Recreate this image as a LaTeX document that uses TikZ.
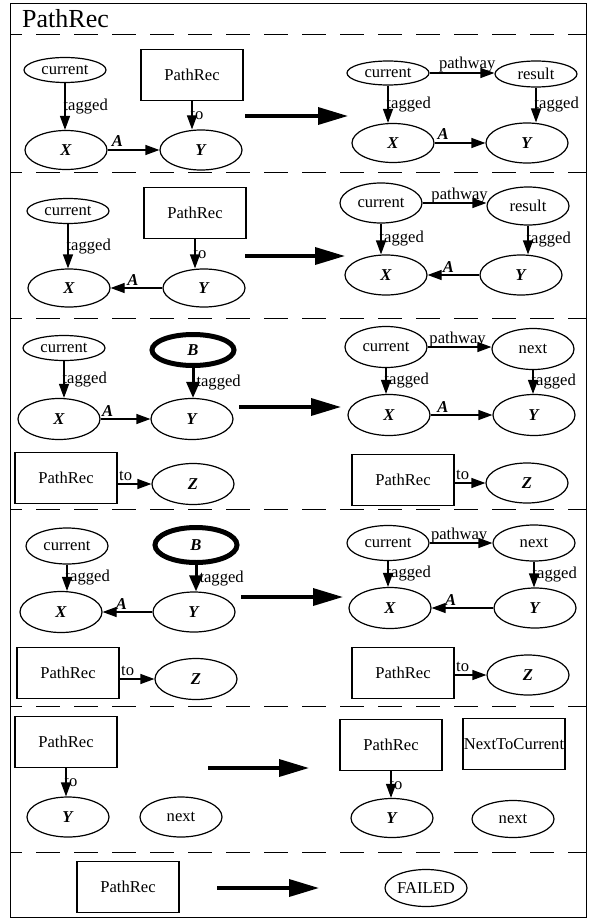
\documentclass[tikz,border=0pt]{standalone}
\usepackage{fontspec}
\setmainfont{Liberation Serif}
\usetikzlibrary{arrows.meta,shapes.geometric}
\newcommand\bvar[1]{\textbf{\textit{#1}}}

\begin{document}
\begin{tikzpicture}[x=1pt,y=-1pt,
  every node/.style={font=\fontsize{16.6}{19}\selectfont},
  ell/.style={draw, ellipse, line width=1.2pt, inner sep=0pt,
              minimum width=82pt, minimum height=#1},
  ell/.default=40pt,
  thickell/.style={ell=#1, line width=5pt},
  boxn/.style={draw, rectangle, line width=1.2pt, inner sep=0pt,
               minimum width=102pt, minimum height=51pt},
  edgeln/.style={line width=1.2pt, -{Triangle[length=14pt,width=10pt]}},
  thickedge/.style={line width=3pt, -{Triangle[length=16pt,width=13pt]}},
  bigarrow/.style={line width=3.5pt, -{Triangle[length=30pt,width=17pt]}},
  sep/.style={line width=1pt, dash pattern=on 24pt off 14pt, dash phase=12pt},
  lv/.style={pos=0.5, anchor=west, xshift=-2pt, inner sep=0pt},
  lh/.style={pos=#1, anchor=base, yshift=3pt, inner sep=0pt},
  lp/.style={pos=#1, anchor=base, yshift=4pt, inner sep=0pt},
  lto/.style={pos=0, anchor=base west, xshift=1pt, yshift=4pt, inner sep=0pt},
]
\useasboundingbox (0,0) rectangle (591,920);

% frame, title and rule separators
\draw[line width=1pt] (10,4) rectangle (586,917);
\node[font=\fontsize{26}{30}\selectfont, anchor=base west, inner sep=0pt] (title) at (22,28) {PathRec};
\foreach \yy in {35,173,318,509,706,852}
  \draw[sep] (10,\yy) -- (586,\yy);

% ---- rule 1 ----
\node[ell=25pt] (c1) at (65,70) {current};
\node[boxn] (p1) at (192,75) {PathRec};
\node[ell=39pt] (x1) at (66,150) {\bvar{X}};
\node[ell=40pt] (y1) at (201,150) {\bvar{Y}};
\draw[edgeln] (c1.south) -- (c1.south |- x1.north) node[lv] {tagged};
\draw[edgeln] (p1.south) -- (p1.south |- y1.north) node[lv] {to};
\draw[edgeln] (x1.east) -- (y1.west) node[lh=0.19] {\bvar{A}};
\coordinate (a1s) at (245,116); \coordinate (a1e) at (348,116);
\draw[bigarrow] (a1s) -- (a1e);

\node[ell=24pt] (c1r) at (388,73) {current};
\node[ell=26pt] (r1) at (536,74) {result};
\node[ell=39pt] (x1r) at (393,143) {\bvar{X}};
\node[ell=40pt] (y1r) at (527,143) {\bvar{Y}};
\draw[edgeln] (c1r.east) -- (c1r.east -| r1.west) node[lp=0.58] {pathway};
\draw[edgeln] (c1r.south) -- (c1r.south |- x1r.north) node[lv] {tagged};
\draw[edgeln] (r1.south) -- (r1.south |- y1r.north) node[lv] {tagged};
\draw[edgeln] (x1r.east) -- (y1r.west) node[lh=0.17] {\bvar{A}};

% ---- rule 2 ----
\node[ell=25pt] (c2) at (68,211) {current};
\node[boxn] (p2) at (195,213) {PathRec};
\node[ell=38pt] (x2) at (69,288) {\bvar{X}};
\node[ell=38pt] (y2) at (204,288) {\bvar{Y}};
\draw[edgeln] (c2.south) -- (c2.south |- x2.north) node[lv] {tagged};
\draw[edgeln] (p2.south) -- (p2.south |- y2.north) node[lv] {to};
\draw[edgeln] (y2.west) -- (x2.east) node[lh=0.57] {\bvar{A}};
\coordinate (a2s) at (245,256); \coordinate (a2e) at (345,256);
\draw[bigarrow] (a2s) -- (a2e);

\node[ell=40pt] (c2r) at (381,203) {current};
\node[ell=38pt] (r2) at (528,206) {result};
\node[ell=40pt] (x2r) at (386,275) {\bvar{X}};
\node[ell=40pt] (y2r) at (521,275) {\bvar{Y}};
\draw[edgeln] (c2r.east) -- (c2r.east -| r2.west) node[lp=0.58] {pathway};
\draw[edgeln] (c2r.south) -- (c2r.south |- x2r.north) node[lv] {tagged};
\draw[edgeln] (r2.south) -- (r2.south |- y2r.north) node[lv] {tagged};
\draw[edgeln] (y2r.west) -- (x2r.east) node[lh=0.6] {\bvar{A}};

% ---- rule 3 ----
\node[ell=25pt] (c3) at (64,348) {current};
\node[thickell=31pt] (b3) at (193,350) {\bvar{B}};
\node[ell=41pt] (x3) at (59,419) {\bvar{X}};
\node[ell=41pt] (y3) at (192,419) {\bvar{Y}};
\node[boxn] (p3) at (66,478) {PathRec};
\node[ell=41pt] (z3) at (193,484) {\bvar{Z}};
\draw[edgeln] (c3.south) -- (c3.south |- x3.north) node[lv] {tagged};
\draw[thickedge] (b3.south) -- (b3.south |- y3.north) node[lv, xshift=4pt] {tagged};
\draw[edgeln] (x3.east) -- (y3.west) node[lh=0.14] {\bvar{A}};
\draw[edgeln] (p3.east |- z3.west) -- (z3.west) node[lto] {to};
\coordinate (a3s) at (239,407); \coordinate (a3e) at (341,407);
\draw[bigarrow] (a3s) -- (a3e);

\node[ell=41pt] (c3r) at (386,347) {current};
\node[ell=41pt] (n3) at (533,349) {next};
\node[ell=41pt] (x3r) at (389,415) {\bvar{X}};
\node[ell=41pt] (y3r) at (534,415) {\bvar{Y}};
\node[boxn] (p3r) at (403,480) {PathRec};
\node[ell=40pt] (z3r) at (527,483) {\bvar{Z}};
\draw[edgeln] (c3r.east) -- (c3r.east -| n3.west) node[lp=0.47] {pathway};
\draw[edgeln] (c3r.south) -- (c3r.south |- x3r.north) node[lv] {tagged};
\draw[edgeln] (n3.south) -- (n3.south |- y3r.north) node[lv] {tagged};
\draw[edgeln] (x3r.east) -- (y3r.west) node[lh=0.2] {\bvar{A}};
\draw[edgeln] (p3r.east |- z3r.west) -- (z3r.west) node[lto] {to};

% ---- rule 4 ----
\node[ell=36pt] (c4) at (67,546) {current};
\node[thickell=35pt] (b4) at (196,545) {\bvar{B}};
\node[ell=41pt] (x4) at (61,612) {\bvar{X}};
\node[ell=40pt] (y4) at (194,612) {\bvar{Y}};
\node[boxn] (p4) at (68,673) {PathRec};
\node[ell=41pt] (z4) at (196,679) {\bvar{Z}};
\draw[edgeln] (c4.south) -- (c4.south |- x4.north) node[lv] {tagged};
\draw[thickedge] (b4.south) -- (b4.south |- y4.north) node[lv, xshift=4pt] {tagged};
\draw[edgeln] (y4.west) -- (x4.east) node[lh=0.62] {\bvar{A}};
\draw[edgeln] (p4.east |- z4.west) -- (z4.west) node[lto] {to};
\coordinate (a4s) at (241,597); \coordinate (a4e) at (343,597);
\draw[bigarrow] (a4s) -- (a4e);

\node[ell=35pt] (c4r) at (388,543) {current};
\node[ell=36pt] (n4) at (534,543) {next};
\node[ell=41pt] (x4r) at (390,608) {\bvar{X}};
\node[ell=40pt] (y4r) at (535,608) {\bvar{Y}};
\node[boxn] (p4r) at (403,673) {PathRec};
\node[ell=40pt] (z4r) at (528,675) {\bvar{Z}};
\draw[edgeln] (c4r.east) -- (c4r.east -| n4.west) node[lp=0.47] {pathway};
\draw[edgeln] (c4r.south) -- (c4r.south |- x4r.north) node[lv] {tagged};
\draw[edgeln] (n4.south) -- (n4.south |- y4r.north) node[lv] {tagged};
\draw[edgeln] (y4r.west) -- (x4r.east) node[lh=0.69] {\bvar{A}};
\draw[edgeln] (p4r.east |- z4r.west) -- (z4r.west) node[lto] {to};

% ---- rule 5 ----
\node[boxn] (p5) at (66,742) {PathRec};
\node[ell=40pt] (y5) at (68,817) {\bvar{Y}};
\node[ell=40pt] (n5) at (181,817) {next};
\draw[edgeln] (p5.south) -- (p5.south |- y5.north) node[lv] {to};
\coordinate (a5s) at (208,768); \coordinate (a5e) at (309,768);
\draw[bigarrow] (a5s) -- (a5e);

\node[boxn] (p5r) at (391,745) {PathRec};
\node[boxn] (nc5) at (514,744) {NextToCurrent};
\node[ell=39pt] (y5r) at (392,818) {\bvar{Y}};
\node[ell=37pt] (n5r) at (513,819) {next};
\draw[edgeln] (p5r.south) -- (p5r.south |- y5r.north) node[lv] {to};

% ---- rule 6 ----
\node[boxn] (p6) at (128,887) {PathRec};
\coordinate (a6s) at (217,888); \coordinate (a6e) at (319,888);
\draw[bigarrow] (a6s) -- (a6e);
\node[ell=37pt] (f6) at (426,888) {FAILED};
\end{tikzpicture}
\end{document}
